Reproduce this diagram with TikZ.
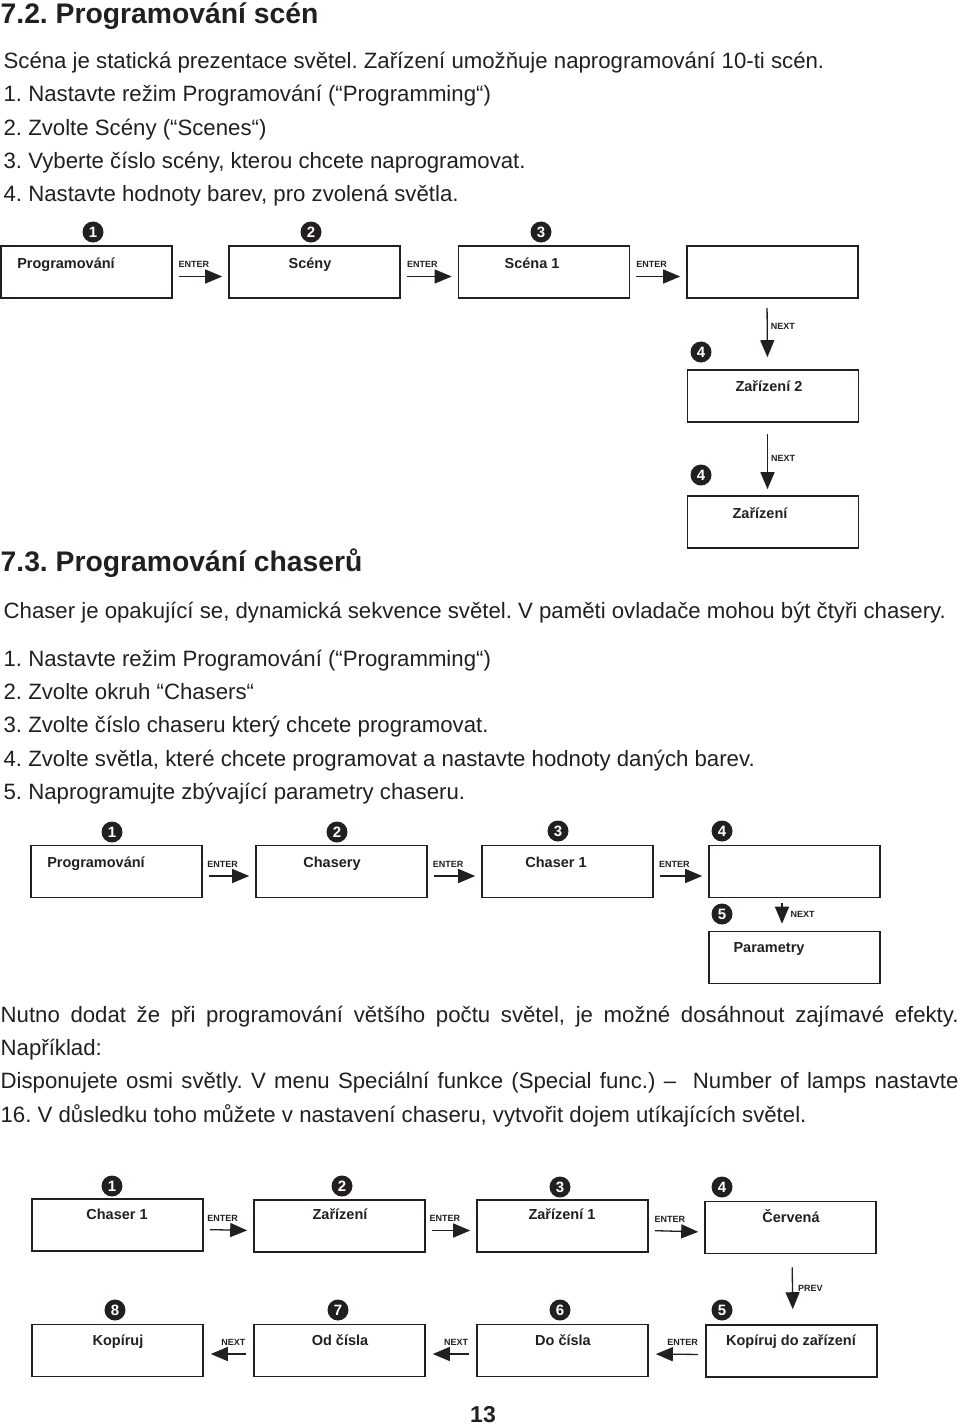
\documentclass[tikz,border=0pt]{standalone}
\usepackage{fontspec}
\setmainfont{Liberation Sans}
\usepackage{tikz}
\usetikzlibrary{arrows.meta}
\definecolor{ink}{RGB}{35,31,32}
\frenchspacing

\begin{document}
\begin{tikzpicture}[x=1pt, y=-1pt, ->, >={Triangle[length=17pt,width=14pt]}, line width=1.3pt, color=ink, panel/.style={rectangle, draw, line width=1.6pt, minimum width=171pt, minimum height=52pt, inner sep=0pt}, panel text/.style={anchor=base, inner sep=0pt, font=\fontsize{14.5}{16}\selectfont\bfseries}, badge/.style={circle, fill=ink, text=white, minimum size=21pt, inner sep=0pt, font=\fontsize{15}{15}\selectfont\bfseries}, key/.style={inner sep=0pt, font=\fontsize{9}{10}\selectfont\bfseries}, heading/.style={anchor=base west, inner sep=0pt, font=\fontsize{28.3}{32}\selectfont\bfseries}, body/.style={anchor=base west, inner sep=0pt, font=\fontsize{22.2}{26}\selectfont}]

\useasboundingbox (0,0) rectangle (960,1428);

% 7.2
\node[heading] (h72) at (0,23) {7.2. Programování scén};
\node[body] (s1) at (3,68) {Scéna je statická prezentace světel. Zařízení umožňuje naprogramování 10-ti scén.};
\node[body] (s2) at (3,101) {1. Nastavte režim Programování (“Programming“)};
\node[body] (s3) at (3,135) {2. Zvolte Scény (“Scenes“)};
\node[body] (s4) at (3,168) {3. Vyberte číslo scény, kterou chcete naprogramovat.};
\node[body] (s5) at (3,201) {4. Nastavte hodnoty barev, pro zvolená světla.};

\node[panel] (b1) at (86.5,272) {};
\node[panel] (b2) at (314.5,272) {};
\node[panel] (b3) at (544,272) {};
\node[panel] (b4) at (772.5,272) {};
\node[panel] (z2) at (773,396) {};
\node[panel] (z) at (773,522) {};

\node[panel text] (tb1) at (66,268) {Programování};
\node[panel text] (tb2) at (310,268) {Scény};
\node[panel text] (tb3) at (532,268) {Scéna 1};
\node[panel text] (tz2) at (769,391) {Zařízení 2};
\node[panel text] (tz) at (760,518) {Zařízení};

\node[badge] (n1) at (93,232) {1};
\node[badge] (n2) at (311,232) {2};
\node[badge] (n3) at (541,232) {3};
\node[badge] (n4) at (701,352) {4};
\node[badge] (n4b) at (701,475) {4};

% 7.3
\node[heading] (h73) at (0,571) {7.3. Programování chaserů};
\node[body] (c0) at (3,618) {Chaser je opakující se, dynamická sekvence světel. V paměti ovladače mohou být čtyři chasery.};
\node[body] (l1) at (3,666) {1. Nastavte režim Programování (“Programming“)};
\node[body] (l2) at (3,699) {2. Zvolte okruh “Chasers“};
\node[body] (l3) at (3,732) {3. Zvolte číslo chaseru který chcete programovat.};
\node[body] (l4) at (3,766) {4. Zvolte světla, které chcete programovat a nastavte hodnoty daných barev.};
\node[body] (l5) at (3,799) {5. Naprogramujte zbývající parametry chaseru.};

\node[panel] (c1) at (116.5,871.5) {};
\node[panel] (c2) at (341.5,871.5) {};
\node[panel] (c3) at (567.5,871.5) {};
\node[panel] (c4) at (794.5,871.5) {};
\node[panel] (c5) at (794.5,957.5) {};

\node[panel text] (tc1) at (96,867) {Programování};
\node[panel text] (tc2) at (332,867) {Chasery};
\node[panel text] (tc3) at (556,867) {Chaser 1};
\node[panel text] (tc5) at (769,952) {Parametry};

\node[badge] (m1) at (112,832) {1};
\node[badge] (m2) at (337,832) {2};
\node[badge] (m3) at (558,831) {3};
\node[badge] (m4) at (722,831) {4};
\node[badge] (m5) at (722,914) {5};

% example
\node[body] (p1) at (0,1022) {\makebox[958pt][s]{Nutno dodat že při programování většího počtu světel, je možné dosáhnout zajímavé efekty.}};
\node[body] (p2) at (0,1055) {Například:};
\node[body] (p3) at (0,1088) {\makebox[958pt][s]{Disponujete osmi světly. V menu Speciální funkce (Special func.) – \ Number of lamps nastavte}};
\node[body] (p4) at (0,1122) {16. V důsledku toho můžete v nastavení chaseru, vytvořit dojem utíkajících světel.};

\node[panel] (d1) at (117.5,1225) {};
\node[panel] (d2) at (339.5,1226) {};
\node[panel] (d3) at (562.5,1226) {};
\node[panel] (d4) at (790.5,1227.5) {};
\node[panel] (d5) at (791.5,1351) {};
\node[panel] (d6) at (562.5,1350.5) {};
\node[panel] (d7) at (339.5,1350.5) {};
\node[panel] (d8) at (117.5,1350.5) {};

\node[panel text] (td1) at (117,1219) {Chaser 1};
\node[panel text] (td2) at (340,1219) {Zařízení};
\node[panel text] (td3) at (562,1219) {Zařízení 1};
\node[panel text] (td4) at (791,1222) {Červená};
\node[panel text] (td5) at (791,1345) {Kopíruj do zařízení};
\node[panel text] (td6) at (563,1345) {Do čísla};
\node[panel text] (td7) at (340,1345) {Od čísla};
\node[panel text] (td8) at (118,1345) {Kopíruj};

\node[badge] (e1) at (112,1186) {1};
\node[badge] (e2) at (342,1186) {2};
\node[badge] (e3) at (560,1187) {3};
\node[badge] (e4) at (722,1187) {4};
\node[badge] (e5) at (722,1310) {5};
\node[badge] (e6) at (560,1310) {6};
\node[badge] (e7) at (338,1310) {7};
\node[badge] (e8) at (115,1310) {8};

\node[anchor=base, inner sep=0pt, font=\fontsize{23}{24}\selectfont\bfseries] (pg) at (483,1422) {13};

% arrows
\foreach \from/\to/\key in {b1/b2/ENTER, b2/b3/ENTER, b3/b4/ENTER, c1/c2/ENTER, c2/c3/ENTER, c3/c4/ENTER, d1/d2/ENTER, d2/d3/ENTER, d3/d4/ENTER}
    \draw[shorten <=6pt, shorten >=6pt] ([yshift=-4.5pt]\from.east) -- node[key, above=8pt, pos=0.38] (k\from) {\key} ([yshift=-4.5pt]\to.west);
\foreach \from/\to/\key in {d5/d6/ENTER, d6/d7/NEXT, d7/d8/NEXT}
    \draw[shorten <=7pt, shorten >=7pt] ([yshift=-3.5pt]\from.west) -- node[key, above=8pt, pos=0.4] (k\from) {\key} ([yshift=-3.5pt]\to.east);

\draw[shorten <=9pt, shorten >=12pt] ([xshift=-5.5pt]b4.south) -- node[key, right=3pt, pos=0.39] (kb4) {NEXT} ([xshift=-5.5pt]z2.north);
\draw[shorten <=11pt, shorten >=6pt] ([xshift=-5.5pt]z2.south) -- node[key, right=3pt, pos=0.49] (kz2) {NEXT} ([xshift=-5.5pt]z.north);
\draw[shorten <=5pt, shorten >=7pt] ([xshift=-12.5pt]c4.south) -- node[key, right=8pt, pos=0.49] (kc4) {NEXT} ([xshift=-12.5pt]c5.north);
\draw[shorten <=13pt, shorten >=15pt] ([xshift=1.5pt]d4.south) -- node[key, right=5pt, pos=0.49] (kd4) {PREV} ([xshift=1.5pt]d5.north);
\end{tikzpicture}
\end{document}
